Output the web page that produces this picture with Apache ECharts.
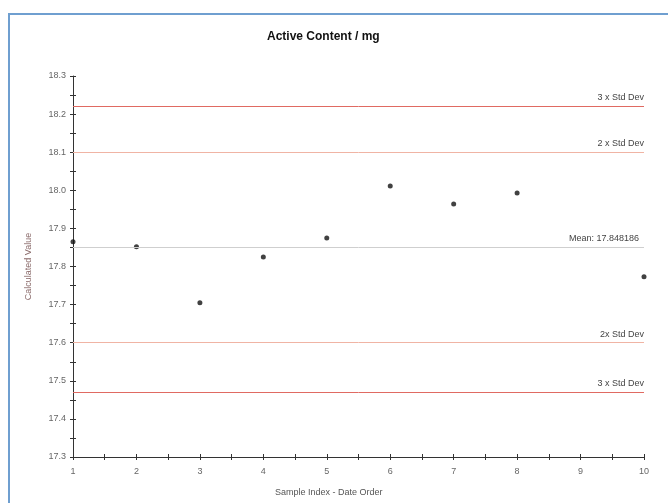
<!DOCTYPE html>
<html>
<head>
<meta charset="utf-8">
<script src="https://cdn.jsdelivr.net/npm/echarts@6/dist/echarts.min.js"></script>
<style>
html,body{margin:0;padding:0;background:#fff;}
#c{width:668px;height:503px;}
</style>
</head>
<body>
<div id="c"></div>
<script>
var sampleIndex = [1, 2, 3, 4, 5, 6, 7, 8, 9, 10];
var calculatedValue = [17.865, 17.852, 17.705, 17.825, 17.875, 18.011, 17.964, 17.993, null, 17.773];
var meanValue = 17.848186;
var limitValues = [18.223, 18.098, 17.598, 17.473];
var limitLabels = ['3 x Std Dev', '2 x Std Dev', '2x Std Dev', '3 x Std Dev'];
var limitColors = ['#e06a62', '#f0b4a4', '#f0b4a4', '#e06a62'];

var points = sampleIndex.map(function (x, i) { return [x, calculatedValue[i]]; })
  .filter(function (p) { return p[1] !== null; });

var font = 'Liberation Sans';
var markData = limitValues.map(function (v, i) {
  return {
    yAxis: v,
    lineStyle: { color: limitColors[i], width: 1, type: 'solid' },
    label: { formatter: limitLabels[i] }
  };
});
markData.push({
  yAxis: meanValue,
  lineStyle: { color: '#cfcfcf', width: 1, type: 'solid' },
  label: { formatter: 'Mean: ' + meanValue.toFixed(6), distance: [5, 4] }
});

var tickStyle = { color: '#333' };
var chart = echarts.init(document.getElementById('c'));
chart.setOption({
  animation: false,
  backgroundColor: '#fff',
  title: {
    text: 'Active Content / mg',
    left: 262,
    top: 26,
    textStyle: { fontFamily: font, fontSize: 12, fontWeight: 'bold', color: '#111' }
  },
  graphic: [{
    type: 'rect',
    shape: { x: 9, y: 14, width: 700, height: 520 },
    style: { fill: 'none', stroke: '#6f9fd0', lineWidth: 2 },
    silent: true
  }, {
    type: 'text',
    left: 275,
    top: 488,
    style: { text: 'Sample Index - Date Order', font: '9px "Liberation Sans"', fill: '#555' },
    silent: true
  }],
  grid: { left: 73, right: 24, top: 76, bottom: 46 },
  xAxis: [{
    type: 'value',
    min: 1, max: 10, interval: 1,
    axisLine: { lineStyle: { color: '#333', width: 1 } },
    axisTick: { show: true, length: 3, lineStyle: tickStyle },
    minorTick: { show: true, splitNumber: 2, length: 3, lineStyle: tickStyle },
    axisLabel: { fontFamily: font, fontSize: 9, color: '#666', margin: 10 },
    splitLine: { show: false }
  }, {
    type: 'value',
    position: 'bottom',
    min: 1, max: 10, interval: 1,
    axisLine: { show: false },
    axisTick: { show: true, inside: true, length: 3, lineStyle: tickStyle },
    minorTick: { show: true, splitNumber: 2, length: 3, lineStyle: tickStyle },
    axisLabel: { show: false },
    splitLine: { show: false }
  }],
  yAxis: [{
    type: 'value',
    min: 17.3, max: 18.3, interval: 0.1,
    name: 'Calculated Value',
    nameLocation: 'middle',
    nameGap: 40,
    nameRotate: 90,
    nameTextStyle: { fontFamily: font, fontSize: 9, color: '#8a6a6a' },
    axisLine: { show: true, lineStyle: { color: '#333', width: 1 } },
    axisTick: { show: true, length: 3, lineStyle: tickStyle },
    minorTick: { show: true, splitNumber: 2, length: 3, lineStyle: tickStyle },
    axisLabel: {
      fontFamily: font, fontSize: 9, color: '#666', margin: 7,
      formatter: function (v) { return v.toFixed(1); }
    },
    splitLine: { show: false }
  }, {
    type: 'value',
    position: 'left',
    min: 17.3, max: 18.3, interval: 0.1,
    axisLine: { show: false },
    axisTick: { show: true, inside: true, length: 3, lineStyle: tickStyle },
    minorTick: { show: true, splitNumber: 2, length: 3, lineStyle: tickStyle },
    axisLabel: { show: false },
    splitLine: { show: false }
  }],
  series: [{
    type: 'scatter',
    data: points,
    symbol: 'circle',
    symbolSize: 5,
    itemStyle: { color: '#111' },
    markLine: {
      silent: true,
      symbol: ['none', 'none'],
      label: {
        show: true,
        position: 'insideEndTop',
        fontFamily: font,
        fontSize: 9,
        color: '#444',
        distance: [0, 4]
      },
      data: markData
    }
  }]
});
</script>
</body>
</html>
